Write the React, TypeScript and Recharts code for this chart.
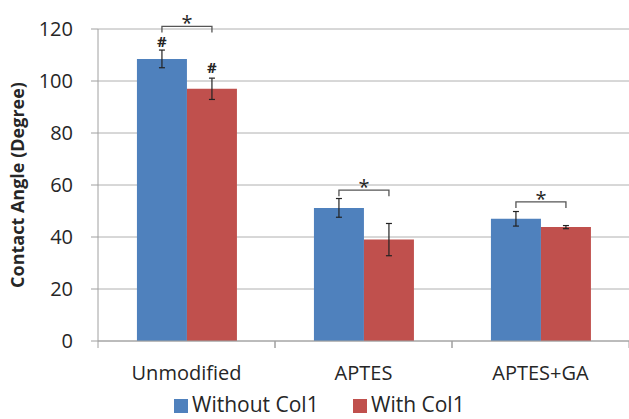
import React from 'react';
import { BarChart, Bar, XAxis, YAxis, CartesianGrid, ErrorBar, LabelList, Legend } from 'recharts';

const categories = ['Unmodified', 'APTES', 'APTES+GA'];
const withoutCol1 = [108.5, 51.2, 47];
const withCol1 = [97, 39, 43.8];
const withoutErr = [3.4, 3.6, 2.8];
const withErr = [4.1, 6.2, 0.6];
const withoutMarks = ['#', '', ''];
const withMarks = ['#', '', ''];
const bracketLevels = [121, 58, 53.5];
const bracketMarks = ['*', '*', '*'];
const yTicks = [0, 20, 40, 60, 80, 100, 120];
const seriesNames = ['Without Col1', 'With Col1'];

const BLUE = '#4F81BD';
const RED = '#C0504D';
const GRID = '#B0B0B0';
const AXIS = '#A0A0A0';
const TEXT = '#262626';
const FONT = '"Open Sans", "Noto Sans", sans-serif';
const X_TICK_SIZE = 7;
const X_TICK_MARGIN = 18;

const data = categories.map((c, i) => ({
  name: c,
  without: withoutCol1[i],
  withC: withCol1[i],
  withoutErr: withoutErr[i],
  withErr: withErr[i],
  withoutMark: withoutMarks[i],
  withMark: withMarks[i],
}));

const YTick = (props: any) => {
  const { x, y, payload } = props;
  return (
    <text x={x} y={y} dy="0.35em" textAnchor="end" fontSize={20} fill={TEXT} fontFamily={FONT}>
      {payload.value}
    </text>
  );
};

const XTick = (props: any) => {
  const { x, y, payload, width } = props;
  const off = payload && payload.offset ? payload.offset : width / (2 * categories.length);
  const top = y - X_TICK_SIZE - X_TICK_MARGIN;
  return (
    <g>
      <line x1={x - off} x2={x - off} y1={top} y2={top + X_TICK_SIZE} stroke={AXIS} />
      <line x1={x + off} x2={x + off} y1={top} y2={top + X_TICK_SIZE} stroke={AXIS} />
      <text x={x} y={y} dy="0.71em" textAnchor="middle" fontSize={20} fill={TEXT} fontFamily={FONT}>
        {payload.value}
      </text>
    </g>
  );
};

const makeHash = (values: number[], errs: number[], gap: number) => (props: any) => {
  const { x, y, width, height, value, index } = props;
  if (!value) return null;
  const ppu = height / values[index];
  const errTop = y - errs[index] * ppu;
  return (
    <text x={x + width / 2} y={errTop - gap} textAnchor="middle" fontSize={15} fontWeight="bold" fill={TEXT} fontFamily={FONT}>
      {value}
    </text>
  );
};

const Bracket = (props: any) => {
  const { x, y, width, height, index } = props;
  const ppu = height / withoutCol1[index];
  const base = y + height;
  const by = base - bracketLevels[index] * ppu;
  const x1 = x + width / 2;
  const x2 = x + width * 1.5;
  return (
    <g>
      <path d={`M${x1},${by + 6}L${x1},${by}L${x2},${by}L${x2},${by + 6}`} fill="none" stroke="#555" strokeWidth={1.3} />
      <text x={(x1 + x2) / 2} y={by + 4} textAnchor="middle" fontSize={20} fill={TEXT} fontFamily={FONT}>
        {bracketMarks[index]}
      </text>
    </g>
  );
};

const legendText: React.CSSProperties = {
  position: 'absolute',
  top: 4,
  height: 22,
  fontSize: 21,
  lineHeight: '22px',
  color: TEXT,
  whiteSpace: 'nowrap',
};

const LegendContent = () => (
  <div style={{ position: 'relative', height: 30, width: 629, fontFamily: FONT }}>
    <div style={{ position: 'absolute', left: 174, top: 10, width: 14, height: 14, background: BLUE }} />
    <div style={{ ...legendText, left: 192 }}>{seriesNames[0]}</div>
    <div style={{ position: 'absolute', left: 353, top: 10, width: 14, height: 14, background: RED }} />
    <div style={{ ...legendText, left: 371 }}>{seriesNames[1]}</div>
  </div>
);

export default function App() {
  return (
    <div style={{ position: 'absolute', left: 0, top: 0, width: 629, height: 419, background: '#fff', overflow: 'hidden' }}>
      <BarChart
        width={629}
        height={419}
        data={data}
        margin={{ top: 29, right: 0, left: 0, bottom: 0 }}
        barGap={0}
        barCategoryGap="22%"
      >
        <CartesianGrid vertical={false} stroke={GRID} />
        <XAxis
          dataKey="name"
          height={48}
          axisLine={{ stroke: AXIS }}
          tickLine={false}
          tickSize={X_TICK_SIZE}
          tickMargin={X_TICK_MARGIN}
          tick={<XTick />}
          interval={0}
        />
        <YAxis
          width={98}
          domain={[0, 120]}
          ticks={yTicks}
          axisLine={{ stroke: AXIS }}
          tickLine={{ stroke: AXIS }}
          tickSize={7}
          tickMargin={18}
          tick={<YTick />}
          label={{
            value: 'Contact Angle (Degree)',
            angle: -90,
            position: 'insideLeft',
            offset: 18,
            style: { textAnchor: 'middle', fontSize: 18, fontWeight: 'bold', fill: TEXT, fontFamily: FONT },
          }}
        />
        <Legend verticalAlign="bottom" height={30} wrapperStyle={{ left: 0, width: 629 }} content={<LegendContent />} />
        <Bar dataKey="without" fill={BLUE} isAnimationActive={false}>
          <ErrorBar dataKey="withoutErr" width={3} stroke="#222" strokeWidth={1.2} />
          <LabelList dataKey="withoutMark" content={makeHash(withoutCol1, withoutErr, 3)} />
          <LabelList dataKey="without" content={<Bracket />} />
        </Bar>
        <Bar dataKey="withC" fill={RED} isAnimationActive={false}>
          <ErrorBar dataKey="withErr" width={3} stroke="#222" strokeWidth={1.2} />
          <LabelList dataKey="withMark" content={makeHash(withCol1, withErr, 5)} />
        </Bar>
      </BarChart>
    </div>
  );
}
